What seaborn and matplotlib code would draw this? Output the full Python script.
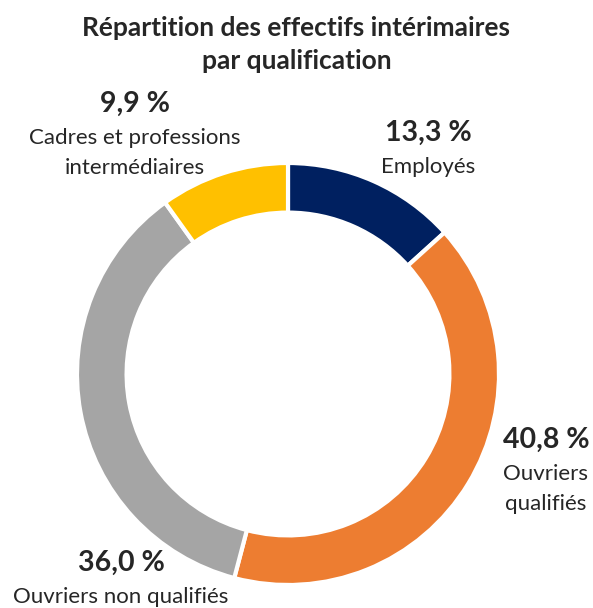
import matplotlib.pyplot as plt
import seaborn as sns

categories = ["Employés", "Ouvriers qualifiés", "Ouvriers non qualifiés",
              "Cadres et professions intermédiaires"]
shares = [13.3, 40.8, 36.0, 9.9]
value_labels = ["13,3 %", "40,8 %", "36,0 %", "9,9 %"]
name_labels = [["Employés"], ["Ouvriers", "qualifiés"], ["Ouvriers non qualifiés"],
               ["Cadres et professions", "intermédiaires"]]
colors = ["#002060", "#ED7D31", "#A5A5A5", "#FFC000"]

sns.set_theme(style="white")
plt.rcParams["font.family"] = ["Lato", "DejaVu Sans"]

W, H = 593, 608
fig = plt.figure(figsize=(W / 100, H / 100), dpi=100)
ax = fig.add_axes([0, 0, 1, 1])

# donut: center at (288, 374) px, outer radius 211 px
cx, cy, r = 288, 374, 211
ax.pie(shares, colors=colors, startangle=90, counterclock=False,
       radius=1, wedgeprops=dict(width=0.235, edgecolor="white", linewidth=3))
ax.set_xlim(-cx / r, (W - cx) / r)
ax.set_ylim(-(H - cy) / r, cy / r)
ax.set_aspect("auto")
ax.axis("off")

fig.text(0.5, 1 - 28 / H, "Répartition des effectifs intérimaires",
         ha="center", va="center", fontsize=19, fontweight="bold")
fig.text(0.5, 1 - 61 / H, "par qualification",
         ha="center", va="center", fontsize=19, fontweight="bold")

# label positions in pixels (center of the value line)
label_pos = [(428, 133), (546, 440), (121, 563), (135, 104)]
for (x, y), val, lines in zip(label_pos, value_labels, name_labels):
    fig.text(x / W, 1 - y / H, val, ha="center", va="center",
             fontsize=20.5, fontweight="bold")
    for i, line in enumerate(lines):
        fig.text(x / W, 1 - (y + 34 + 30 * i) / H, line, ha="center",
                 va="center", fontsize=16)

fig.savefig("out.png", dpi=100)
